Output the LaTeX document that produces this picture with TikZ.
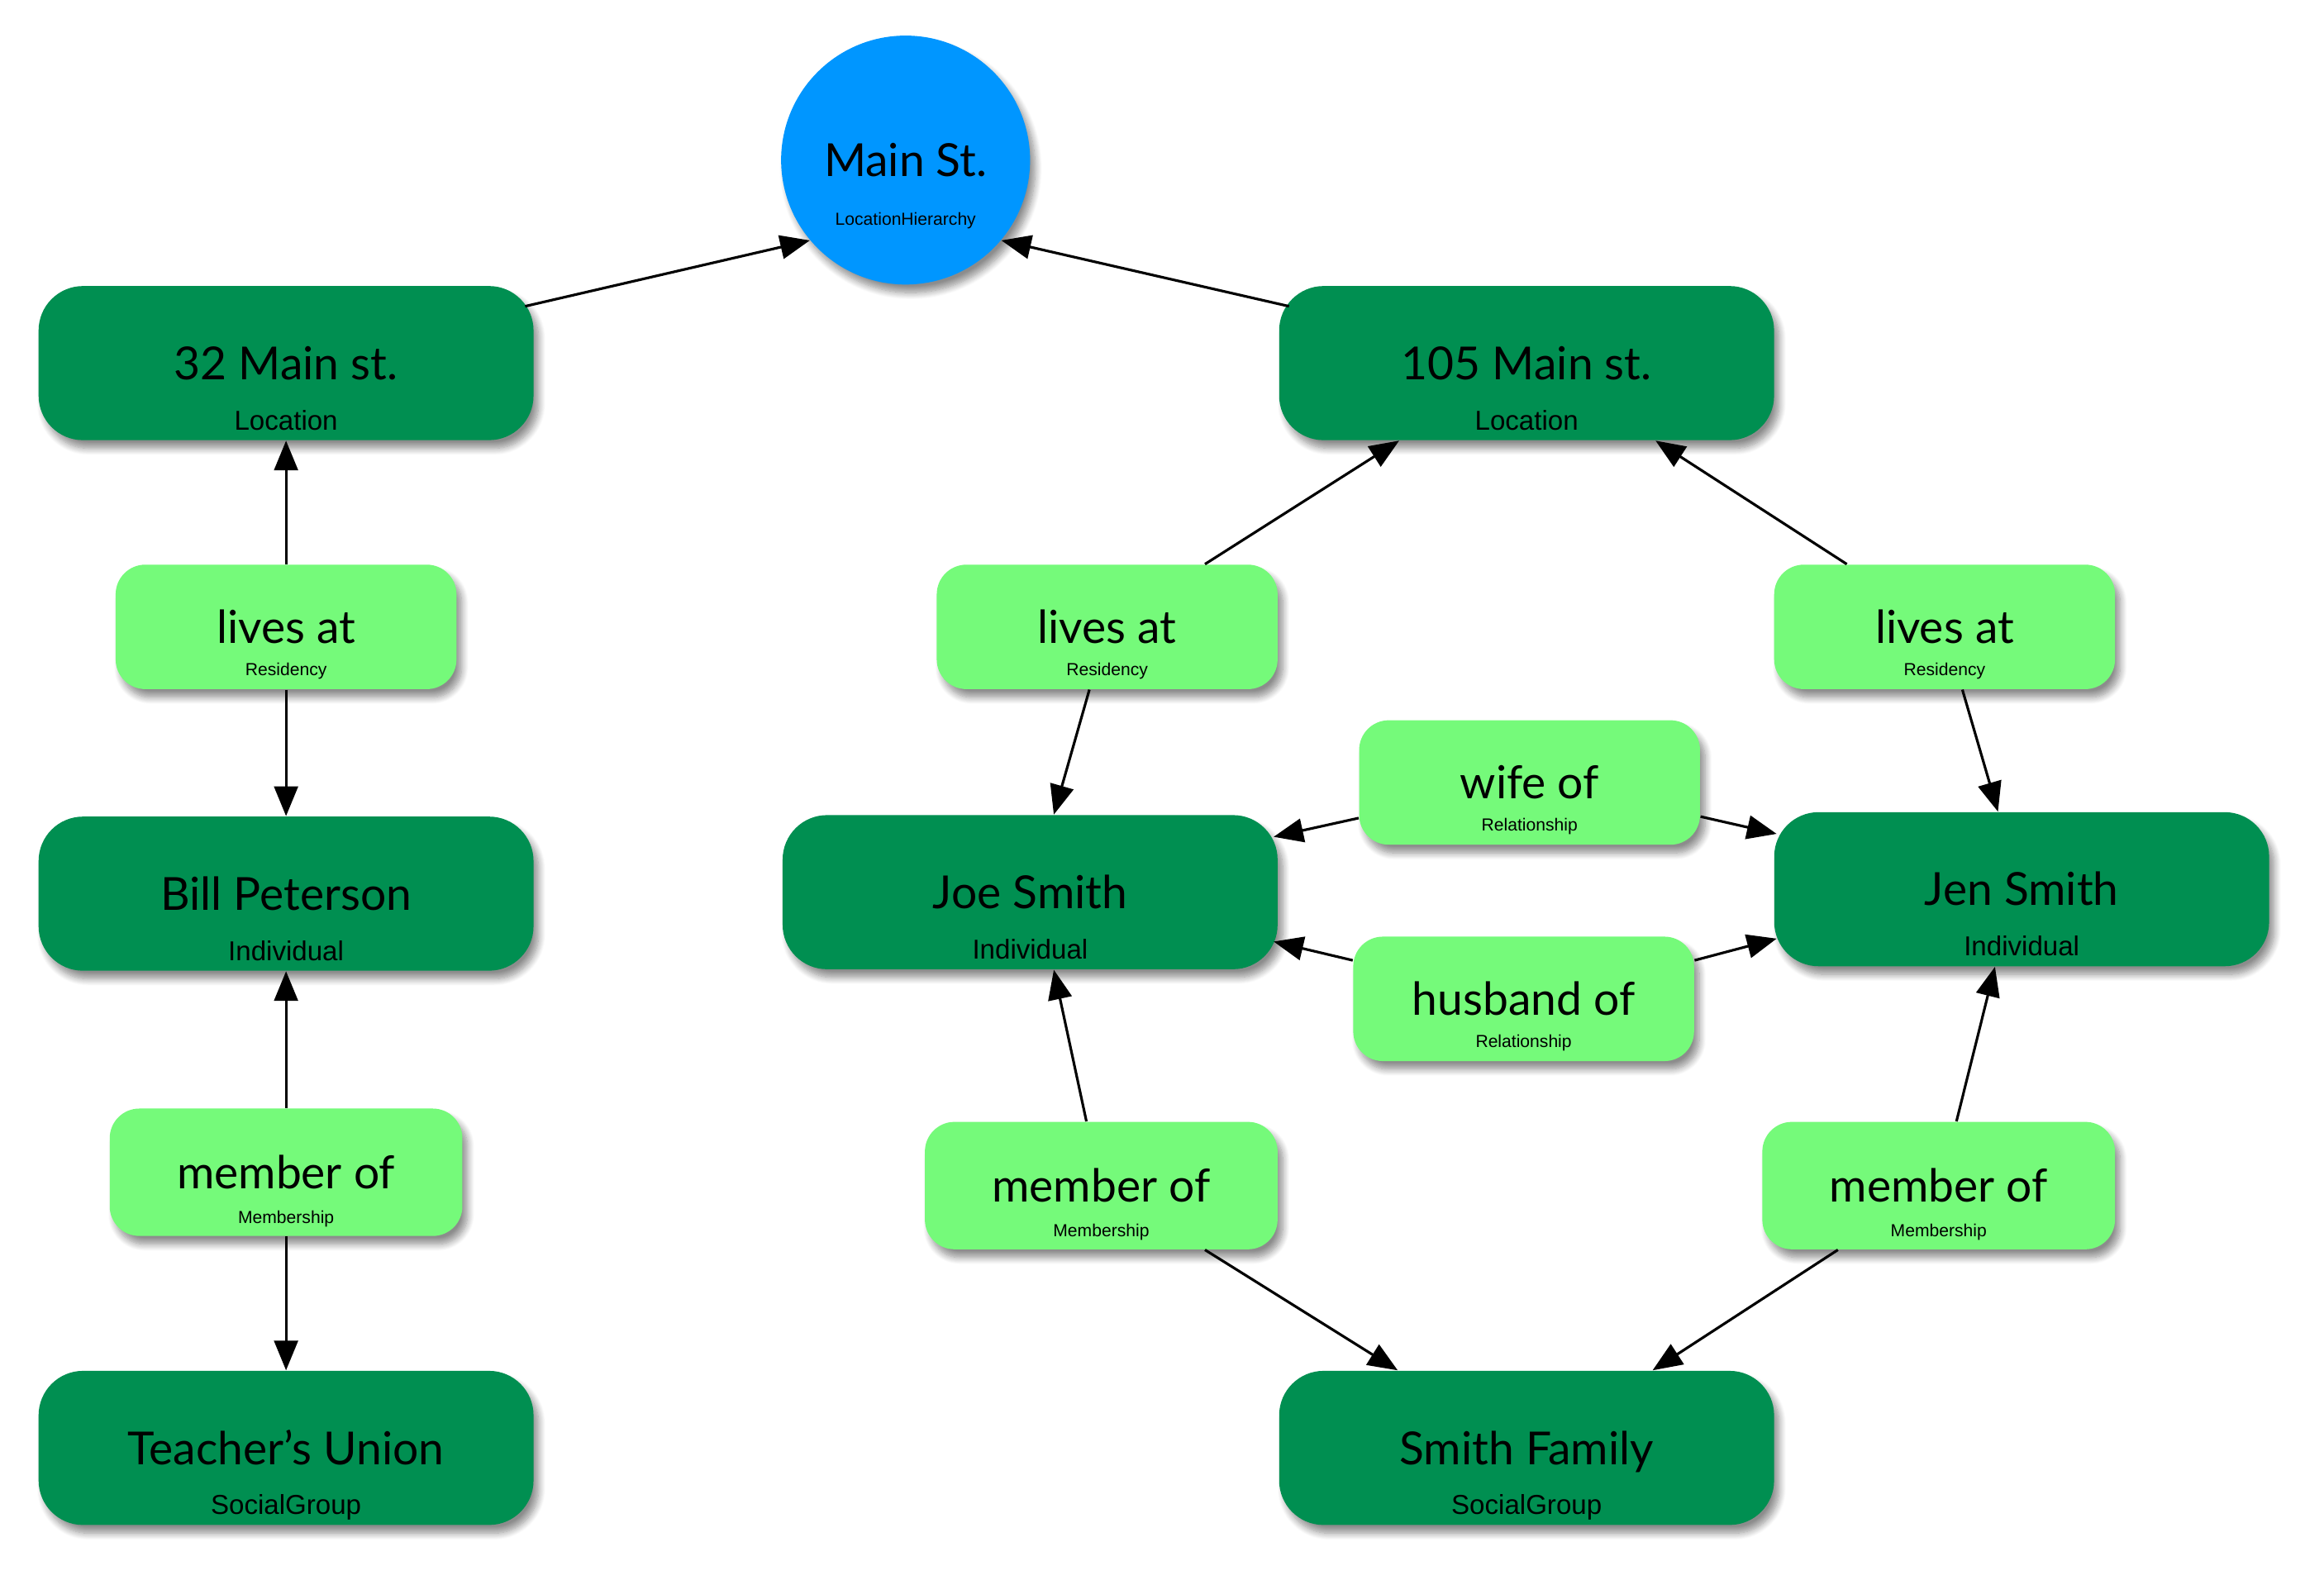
\documentclass[tikz,border=0pt]{standalone}
\usepackage{fontspec}
\setmainfont{Lato}
\newfontfamily\typefont{Liberation Sans}
\usetikzlibrary{arrows.meta,shadows.blur}
\definecolor{clover}{RGB}{0,143,81}
\definecolor{flora}{RGB}{117,250,122}
\definecolor{aqua}{RGB}{0,150,255}
\tikzset{
  soft/.style={blur shadow={shadow xshift=0.07cm, shadow yshift=-0.11cm, shadow blur radius=0.09cm, shadow blur steps=10, shadow opacity=45}},
  entity/.style={rectangle, rounded corners=0.6cm, fill=clover, soft, minimum width=6.68cm, minimum height=2.08cm, inner sep=0pt, text height=12.6pt, text depth=0pt, font=\fontsize{17.5}{20}\selectfont},
  relation/.style={rectangle, rounded corners=0.4cm, fill=flora, soft, minimum width=4.6cm, minimum height=1.68cm, inner sep=0pt, text height=12.6pt, text depth=0pt, font=\fontsize{17.5}{20}\selectfont},
  place/.style={circle, fill=aqua, soft, minimum size=3.36cm, inner sep=0pt, text height=12.6pt, text depth=0pt, font=\fontsize{17.5}{20}\selectfont},
  kind/.style={inner sep=0pt, text height=7.6pt, text depth=0pt, font=\typefont\fontsize{10.5}{12}\selectfont},
  subkind/.style={inner sep=0pt, text height=4.8pt, text depth=0pt, font=\typefont\fontsize{6.7}{8}\selectfont},
  link/.style={->, line width=1pt}
}
\begin{document}
\begin{tikzpicture}[x=0.02cm, y=-0.02cm, line join=round, >={Triangle[length=0.4cm, width=0.32cm]}]
	\useasboundingbox (0,0) rectangle (1568,1066);
	\node[place] (main) at (611,108) {Main St.};
	\node[subkind] (mainT) at ([yshift=-0.8cm]main.center) {LocationHierarchy};
	\node[entity] (loc32) at (193,245) {32 Main st.};
	\node[kind] (loc32T) at ([yshift=0.28cm]loc32.south) {Location};
	\node[entity] (loc105) at (1030,245) {105 Main st.};
	\node[kind] (loc105T) at ([yshift=0.28cm]loc105.south) {Location};
	\node[relation] (livesA) at (193,423) {lives at};
	\node[subkind] (livesAT) at ([yshift=0.28cm]livesA.south) {Residency};
	\node[relation] (livesB) at (747,423) {lives at};
	\node[subkind] (livesBT) at ([yshift=0.28cm]livesB.south) {Residency};
	\node[relation] (livesC) at (1312,423) {lives at};
	\node[subkind] (livesCT) at ([yshift=0.28cm]livesC.south) {Residency};
	\node[entity] (bill) at (193,603) {Bill Peterson};
	\node[kind] (billT) at ([yshift=0.28cm]bill.south) {Individual};
	\node[entity] (joe) at (695,602) {Joe Smith};
	\node[kind] (joeT) at ([yshift=0.28cm]joe.south) {Individual};
	\node[entity] (jen) at (1364,600) {Jen Smith};
	\node[kind] (jenT) at ([yshift=0.28cm]jen.south) {Individual};
	\node[relation] (wife) at (1032,528) {wife of};
	\node[subkind] (wifeT) at ([yshift=0.28cm]wife.south) {Relationship};
	\node[relation] (husband) at (1028,674) {husband of};
	\node[subkind] (husbandT) at ([yshift=0.28cm]husband.south) {Relationship};
	\node[relation, minimum width=4.76cm, minimum height=1.72cm] (memberA) at (193,791) {member of};
	\node[subkind] (memberAT) at ([yshift=0.26cm]memberA.south) {Membership};
	\node[relation, minimum width=4.76cm, minimum height=1.72cm] (memberB) at (743,800) {member of};
	\node[subkind] (memberBT) at ([yshift=0.26cm]memberB.south) {Membership};
	\node[relation, minimum width=4.76cm, minimum height=1.72cm] (memberC) at (1308,800) {member of};
	\node[subkind] (memberCT) at ([yshift=0.26cm]memberC.south) {Membership};
	\node[entity] (union) at (193,977) {Teacher’s Union};
	\node[kind] (unionT) at ([yshift=0.28cm]union.south) {SocialGroup};
	\node[entity] (family) at (1030,977) {Smith Family};
	\node[kind] (familyT) at ([yshift=0.28cm]family.south) {SocialGroup};
	\draw[link] ([shift={(-6,14)}]loc32.north east) -- (main.220);
	\draw[link] ([shift={(7,14)}]loc105.north west) -- (main.320);
	\draw[link] (livesA.north) -- (loc32.south);
	\draw[link] (livesA.south) -- (bill.north);
	\draw[link] ([xshift=1.32cm]livesB.north) -- ([xshift=-1.72cm]loc105.south);
	\draw[link] ([xshift=-0.24cm]livesB.south) -- ([xshift=0.32cm]joe.north);
	\draw[link] ([xshift=-1.32cm]livesC.north) -- ([xshift=1.74cm]loc105.south);
	\draw[link] ([xshift=0.24cm]livesC.south) -- ([xshift=-0.32cm]jen.north);
	\draw[link] ([shift={(0,24)}]wife.west) -- ([shift={(-3,15)}]joe.north east);
	\draw[link] ([shift={(0,23)}]wife.east) -- ([shift={(2,15)}]jen.north west);
	\draw[link] ([shift={(0,-26)}]husband.west) -- ([shift={(-3,-19)}]joe.south east);
	\draw[link] ([shift={(0,-26)}]husband.east) -- ([shift={(2,-19)}]jen.south west);
	\draw[link] (memberA.north) -- (bill.south);
	\draw[link] (memberA.south) -- (union.north);
	\draw[link] ([xshift=-0.2cm]memberB.north) -- ([xshift=0.32cm]joe.south);
	\draw[link] ([xshift=1.4cm]memberB.south) -- ([xshift=-1.74cm]family.north);
	\draw[link] ([xshift=0.24cm]memberC.north) -- ([xshift=-0.36cm]jen.south);
	\draw[link] ([xshift=-1.36cm]memberC.south) -- ([xshift=1.7cm]family.north);
\end{tikzpicture}
\end{document}
